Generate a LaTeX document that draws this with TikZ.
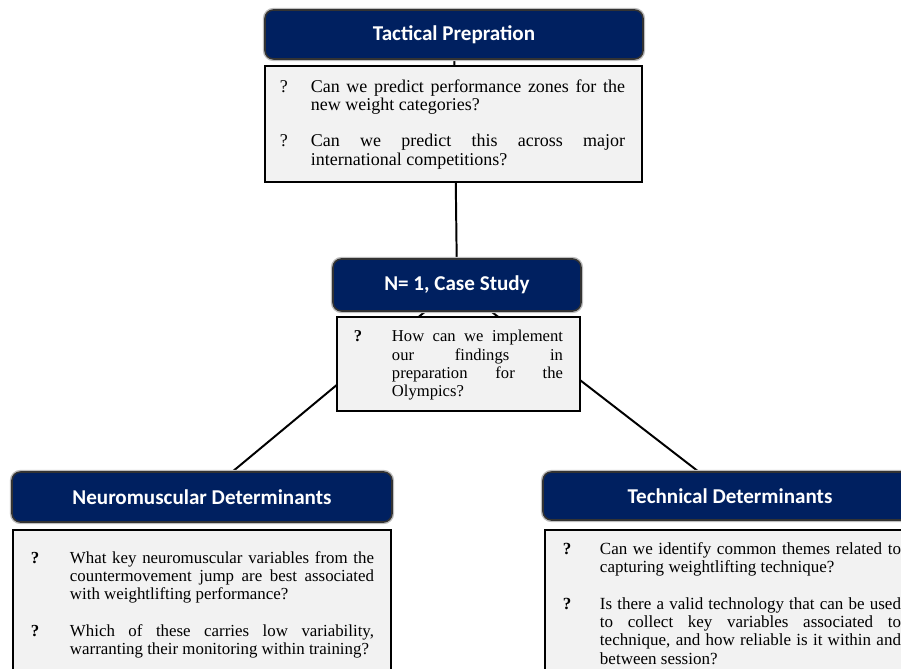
\documentclass[tikz,border=0pt]{standalone}
\usepackage{fontspec}
\setmainfont{Liberation Serif}
\newfontfamily\headfont{Carlito}
\usetikzlibrary{positioning}
\usetikzlibrary{backgrounds}
\definecolor{navy}{HTML}{002060}
\definecolor{boxgray}{HTML}{F2F2F2}
\newlength{\pxl}
\setlength{\pxl}{0.025cm}
\newlength{\qhang}
\tikzset{
    head/.style = {rectangle, rounded corners=6pt, draw=black!80, line width=1.1pt, fill=navy, text=white,
                   preaction={draw=black!25, line width=3pt},
                   font=\headfont\bfseries\fontsize{15}{18}\selectfont},
    qbox/.style = {rectangle, draw=black, line width=1.4pt, fill=boxgray, inner sep=0pt, anchor=north west,
                   font=\fontsize{12}{13}\selectfont},
    link/.style = {line width=1.4pt, black},
}
% one question, mark hanging in front
\newcommand{\Q}[2][\textbf{?}]{\noindent\hangindent=\qhang\hangafter=1\makebox[\qhang][l]{#1}#2\par\vspace{13pt}}
% left pad, width, right pad, hang, top pad, height, questions
\newcommand{\qtext}[7]{\hspace*{#1\pxl}\parbox[t][#6\pxl][t]{#2\pxl}{\selectfont
  \setlength{\qhang}{#4\pxl}\vspace*{#5\pxl}#7}\hspace*{#3\pxl}}

\begin{document}
\begin{tikzpicture}[x=0.025cm, y=-0.025cm]
\useasboundingbox (0,0) rectangle (901,669);
\clip (0,0) rectangle (901,669);
% headers
\node[head, minimum width=378*\pxl, minimum height=49*\pxl] at (454,34.5) (thead) {Tactical Prepration};
\node[head, minimum width=248*\pxl, minimum height=52*\pxl] at (457,285) (nhead) {N= 1, Case Study};
\node[head, minimum width=380*\pxl, minimum height=50*\pxl] at (202,497) (nmhead) {Neuromuscular Determinants};
\node[head, minimum width=374*\pxl, minimum height=48*\pxl] at (730,496) (tdhead) {Technical Determinants};
% question boxes
\node[qbox, font=\fontsize{12.8}{13}\selectfont] at (264,65.5) (tbody) {\qtext{15}{345}{17}{31}{13}{116}{%
  \Q[?]{Can we predict performance zones for the \linebreak new weight categories?}
  \Q[?]{Can we predict this across major \linebreak international competitions?}}};
\node[qbox, font=\fontsize{11.8}{13}\selectfont] at (336,316) (nbody) {\qtext{17}{209}{17}{38}{13.5}{94}{%
  \Q{How can we implement \linebreak our findings in \linebreak preparation for the \linebreak Olympics?}}};
\node[qbox] at (12,529) (nmbody) {\qtext{18}{343}{17}{39}{21.5}{160}{%
  \Q{What key neuromuscular variables from the \linebreak countermovement jump are best associated \linebreak with weightlifting performance?}
  \Q{Which of these carries low variability, \linebreak warranting their monitoring within training?}}};
\node[qbox, font=\fontsize{12.1}{13}\selectfont] at (544,529) (tdbody) {\qtext{18}{338}{17}{37}{12.5}{160}{%
  \Q{Can we identify common themes related to \linebreak capturing weightlifting technique?}
  \Q{Is there a valid technology that can be used \linebreak to collect key variables associated to \linebreak technique, and how reliable is it within and \linebreak between session?}}};
%
\begin{scope}[on background layer]
\draw[link] (thead) -- (nhead);
\draw[link] (nhead) -- (nmhead);
\draw[link] (nhead) -- (tdhead);
\end{scope}
\end{tikzpicture}
\end{document}
